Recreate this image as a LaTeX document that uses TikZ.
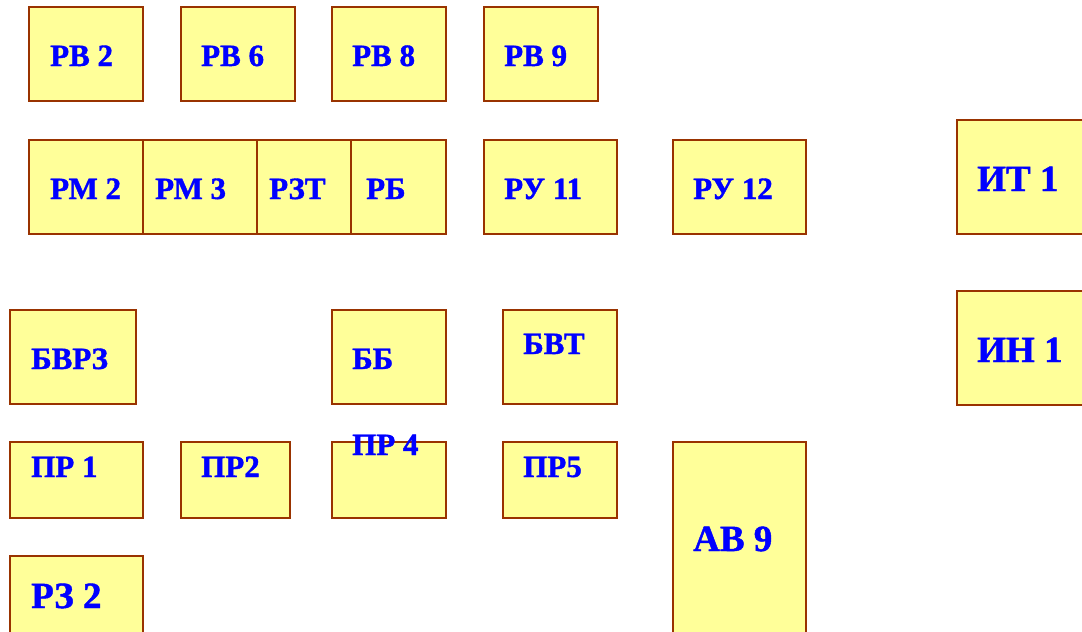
\documentclass[tikz,border=0pt]{standalone}
\usepackage{fontspec}
\setmainfont{Liberation Serif}
\newfontfamily\labelfont{Liberation Serif Bold}[FakeBold=1.2]
\begin{document}
\begin{tikzpicture}[x=1pt,y=-1pt,
  box/.style 2 args={draw=boxline, fill=boxfill, line width=2pt, rectangle,
    minimum width=#1, minimum height=#2, inner sep=0pt},
  lbl/.style={anchor=base west, text=blue, inner sep=0pt,
    font=\labelfont\fontsize{31}{35}\selectfont},
  biglbl/.style={lbl, font=\labelfont\fontsize{37}{41}\selectfont}]
\definecolor{boxline}{HTML}{993300}
\definecolor{boxfill}{HTML}{FFFF99}
\useasboundingbox (0,0) rectangle (1082,632);
\clip (0,0) rectangle (1082,632);
% top row
\node[box={114pt}{94pt}] (rv2) at (86,54) {};
\node[box={114pt}{94pt}] (rv6) at (238,54) {};
\node[box={114pt}{94pt}] (rv8) at (389,54) {};
\node[box={114pt}{94pt}] (rv9) at (541,54) {};
\node[lbl] (trv2) at (50,66) {РВ 2};
\node[lbl] (trv6) at (201,66) {РВ 6};
\node[lbl] (trv8) at (352,66) {РВ 8};
\node[lbl] (trv9) at (504,66) {РВ 9};
% second row
\node[box={114pt}{94pt}] (rm2) at (86,187) {};
\node[box={114pt}{94pt}] (rm3) at (200,187) {};
\node[box={94pt}{94pt}] (rzt) at (304,187) {};
\node[box={95pt}{94pt}] (rb) at (398.5,187) {};
\node[box={133pt}{94pt}] (ru11) at (550.5,187) {};
\node[box={133pt}{94pt}] (ru12) at (739.5,187) {};
\node[lbl] (trm2) at (50,199) {РМ 2};
\node[lbl] (trm3) at (155,199) {РМ 3};
\node[lbl] (trzt) at (269,199) {РЗТ};
\node[lbl] (trb) at (366,199) {РБ};
\node[lbl] (tru11) at (504,199) {РУ 11};
\node[lbl] (tru12) at (693,199) {РУ 12};
% right column
\node[box={133pt}{114pt}] (it1) at (1023.5,177) {};
\node[box={133pt}{114pt}] (in1) at (1023.5,348) {};
\node[biglbl] (tit1) at (977,191) {ИТ 1};
\node[biglbl] (tin1) at (977,362) {ИН 1};
% third row
\node[box={126pt}{94pt}] (bvrz) at (73,357) {};
\node[box={114pt}{94pt}] (bb) at (389,357) {};
\node[box={114pt}{94pt}] (bvt) at (560,357) {};
\node[lbl] (tbvrz) at (31,369) {БВРЗ};
\node[lbl] (tbb) at (352,369) {ББ};
\node[lbl] (tbvt) at (523,354) {БВТ};
% fourth row
\node[box={133pt}{76pt}] (pr1) at (76.5,480) {};
\node[box={109pt}{76pt}] (pr2) at (235.5,480) {};
\node[box={114pt}{76pt}] (pr4) at (389,480) {};
\node[box={114pt}{76pt}] (pr5) at (560,480) {};
\node[box={133pt}{198pt}] (av9) at (739.5,541) {};
\node[lbl] (tpr1) at (31,477) {ПР 1};
\node[lbl] (tpr2) at (201,477) {ПР2};
\node[lbl] (tpr4) at (352,455) {ПР 4};
\node[lbl] (tpr5) at (523,477) {ПР5};
\node[biglbl] (tav9) at (693,551) {АВ 9};
% bottom row
\node[box={133pt}{84pt}] (rz2) at (76.5,598) {};
\node[biglbl] (trz2) at (31,608) {РЗ 2};
\end{tikzpicture}
\end{document}
